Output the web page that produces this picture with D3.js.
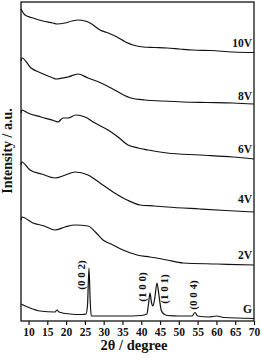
<!DOCTYPE html>
<html><head><meta charset="utf-8">
<script src="https://cdn.jsdelivr.net/npm/d3@7"></script>
<style>body{margin:0;background:#fff}svg{display:block}text{font-family:"Liberation Serif","Times New Roman",serif;font-weight:bold;fill:#111}</style>
</head><body><div id="c"></div>
<script>
const xTicks = [10,15,20,25,30,35,40,45,50,55,60,65,70];
const seriesNames = ["10V","8V","6V","4V","2V","G"];
const angle10V = [8.0,9.06,11.19,13.85,16.52,17.58,19.71,21.57,23.17,25.03,26.36,29.02,31.2,33.55,35.8,37.8,40.47,43.5,46.85,50.2,53.77,58.5,64.41,70];
const int10V   = [312,306,303,300,298,297,298,300,301,300,298,291,288,284,279,276,274,273.5,273,272,271,270.5,269,268.5];
const angle8V  = [8.0,8.27,10.66,13.32,16.52,17.31,20.51,23.17,25.83,29.29,31.95,34.34,37.27,41.0,45.5,51.11,57.5,64.41,70];
const int8V    = [260,263,253,248,243,242,244,247,243,238,233,228,223,221,220,219,218.5,218,217];
const angle6V  = [8.0,8.27,9.86,13.32,17.05,17.85,19.18,20.51,22.64,25.03,27.69,31.15,33.81,36.47,39.13,41.79,46.85,55.63,64.41,70];
const int6V    = [208,211,208,204,200,199,203,203,206,204,198,191,184,176,173,171,168,166,164,162];
const angle4V  = [8.0,8.2,10.4,13.5,17.05,19.8,22.37,25.83,29.02,32.48,36.21,39.67,43.5,46.85,55.63,62.5,70];
const int4V    = [156,159,151,147,143,146,149,146,138,129,121,116,115,114,112,110.5,109];
const angle2V  = [8.0,8.2,11.19,14.2,17.05,19.7,22.37,25.83,27.8,29.82,32.48,35.14,38.87,42.33,46.85,51.11,60.16,70];
const int2V    = [101,104,98,95,91,94,96,95,89,81,76,71,66,64,61,58,57,56];
const angleG   = [8.0,10.4,13.06,17.05,17.58,18.1,21.04,24.23,25.3,25.7,26.09,26.4,26.7,30,35,40,41.5,41.9,42.33,42.7,43.13,43.6,44.19,44.7,45.3,46,47,50,53.5,54.3,55,58,60,62,70];
const intG     = [17,13,10,9,11,9,7,6.5,7,16,53,21,5,5,5,5.5,7,16,28,19,15,23,38,26,11,7,5.5,5,5,8.5,5,4,5,3.5,2.5];
const labelY   = [274,221,168,118,62,8];
const peakLabels = ["(0 0 2)","(1 0 0)","(1 0 1)","(0 0 4)"];
const peakAngle  = [24.2,40.2,46.3,54.0];
const peakInt    = [46,34,32,26];

const angles = [angle10V,angle8V,angle6V,angle4V,angle2V,angleG];
const ints = [int10V,int8V,int6V,int4V,int2V,intG];

const W=262,H=358, L=21,R=254,T=2,B=321;
const svg=d3.select("#c").append("svg").attr("width",W).attr("height",H);
const x=d3.scaleLinear().domain([8,70]).range([L,R]);
const y=d3.scaleLinear().domain([0,319]).range([B,T]);

const line=d3.line().x(d=>x(d[0])).y(d=>y(d[1])).curve(d3.curveMonotoneX);
seriesNames.forEach((n,i)=>{
  const pts=angles[i].map((a,j)=>[a,ints[i][j]]);
  svg.append("path").attr("d",line(pts)).attr("fill","none").attr("stroke","#111").attr("stroke-width",1.2);
  svg.append("text").attr("x",x(70)-2).attr("y",y(labelY[i])).attr("text-anchor","end").attr("font-size",11.5).text(n);
});
peakLabels.forEach((t,i)=>{
  svg.append("text").attr("transform",`translate(${x(peakAngle[i])+3.5},${y(peakInt[i])}) rotate(-90)`)
    .attr("text-anchor","middle").attr("font-size",11).text(t);
});
// frame
svg.append("rect").attr("x",L).attr("y",T).attr("width",R-L).attr("height",B-T).attr("fill","none").attr("stroke","#111").attr("stroke-width",1.3);
const ax=svg.append("g").attr("transform",`translate(0,${B})`).call(d3.axisBottom(x).tickValues(xTicks).tickSize(4).tickPadding(3).tickFormat(d3.format("d")));
ax.select(".domain").remove();
ax.selectAll("line").attr("stroke","#111").attr("stroke-width",1.2);
ax.selectAll("text").attr("font-size",11.5).attr("font-family","Liberation Serif, serif").attr("font-weight","bold").attr("fill","#111");
svg.append("text").attr("x",134).attr("y",350).attr("text-anchor","middle").attr("font-size",14.5).text("2θ / degree");
svg.append("text").attr("transform","translate(12,151) rotate(-90)").attr("text-anchor","middle").attr("font-size",14).text("Intensity / a.u.");
</script></body></html>
